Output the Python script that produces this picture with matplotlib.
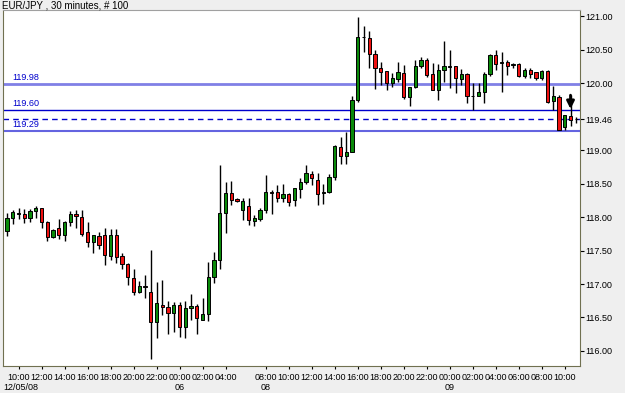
import matplotlib
matplotlib.use('Agg')
import matplotlib.pyplot as plt
import matplotlib.transforms as mtransforms
import numpy as np

plt.rcParams['font.family'] = ['Liberation Sans', 'DejaVu Sans']

# OHLC, 30 min candles, EUR/JPY
opens = [117.79, 117.98, 118.05, 118.05, 117.98, 118.09, 118.13, 117.93, 117.70, 117.83,
         117.73, 117.93, 118.05, 118.00, 117.77, 117.62, 117.72, 117.73, 117.42, 117.73,
         117.42, 117.30, 117.09, 116.88, 116.97, 116.88, 116.44, 116.69, 116.65, 116.57,
         116.68, 116.36, 116.64, 116.67, 116.47, 116.55, 117.11, 117.36, 118.06, 118.36,
         118.27, 118.10, 118.17, 117.94, 117.97, 118.10, 118.38, 118.37, 118.29, 118.35,
         118.25, 118.42, 118.52, 118.64, 118.55, 118.36, 118.38, 118.60, 119.05, 118.91,
         118.97, 119.74, 120.68, 120.67, 120.44, 120.23, 120.18, 120.00, 120.06, 120.15,
         119.79, 119.94, 120.25, 120.35, 120.13, 119.90, 120.20, 120.24, 120.25, 120.06,
         120.14, 119.80, 119.80, 119.87, 120.14, 120.42, 120.30, 120.32, 120.27, 120.29,
         120.10, 120.19, 120.16, 120.07, 120.18, 119.73, 119.79, 119.34, 119.51, 119.46]
highs = [118.06, 118.10, 118.13, 118.12, 118.12, 118.16, 118.14, 117.94, 117.82, 117.97,
         117.94, 118.09, 118.10, 118.10, 117.93, 117.73, 117.78, 117.84, 117.82, 117.82,
         117.46, 117.32, 117.22, 117.05, 117.14, 117.51, 117.03, 117.06, 116.74, 116.73,
         116.73, 116.74, 116.85, 116.70, 116.79, 117.33, 117.48, 118.77, 118.53, 118.54,
         118.28, 118.28, 118.28, 118.03, 118.13, 118.63, 118.41, 118.48, 118.49, 118.36,
         118.43, 118.58, 118.78, 118.68, 118.65, 118.50, 118.64, 119.07, 119.20, 119.27,
         119.81, 120.98, 120.85, 120.77, 120.49, 120.32, 120.18, 120.15, 120.32, 120.27,
         119.94, 120.35, 120.39, 120.38, 120.30, 120.28, 120.63, 120.49, 120.25, 120.21,
         120.15, 120.00, 120.00, 120.17, 120.44, 120.49, 120.47, 120.34, 120.30, 120.30,
         120.22, 120.23, 120.17, 120.19, 120.19, 119.95, 119.82, 119.52, 119.82, 119.50]
lows = [117.72, 117.89, 117.97, 117.91, 117.92, 117.98, 117.83, 117.64, 117.69, 117.67,
        117.64, 117.87, 117.84, 117.72, 117.55, 117.46, 117.52, 117.28, 117.36, 117.31,
        117.22, 116.99, 116.84, 116.87, 116.79, 115.88, 116.19, 116.54, 116.26, 116.29,
        116.21, 116.19, 116.47, 116.26, 116.46, 116.45, 117.01, 117.22, 117.76, 118.18,
        118.22, 117.95, 117.88, 117.86, 117.94, 118.06, 118.04, 118.23, 118.23, 118.16,
        118.16, 118.28, 118.50, 118.48, 118.18, 118.19, 118.36, 118.55, 118.79, 118.79,
        118.97, 119.71, 120.47, 120.22, 119.91, 119.97, 119.89, 119.94, 120.02, 119.76,
        119.66, 119.92, 120.22, 120.09, 119.89, 119.74, 120.02, 119.92, 119.85, 119.97,
        119.70, 119.60, 119.80, 119.70, 120.10, 120.20, 119.87, 120.12, 120.22, 120.09,
        120.07, 120.07, 120.04, 120.04, 119.70, 119.60, 119.30, 119.30, 119.36, 119.41]
closes = [117.99, 118.08, 118.06, 117.98, 118.09, 118.14, 117.93, 117.70, 117.81, 117.73,
          117.93, 118.04, 118.01, 117.75, 117.62, 117.73, 117.58, 117.43, 117.73, 117.40,
          117.30, 117.10, 116.88, 116.97, 116.95, 116.44, 116.71, 116.66, 116.57, 116.68,
          116.36, 116.64, 116.67, 116.49, 116.55, 117.11, 117.36, 118.06, 118.36, 118.26,
          118.24, 118.24, 117.96, 117.99, 118.10, 118.38, 118.36, 118.29, 118.35, 118.23,
          118.43, 118.53, 118.65, 118.58, 118.35, 118.37, 118.60, 119.06, 118.91, 118.97,
          119.74, 120.69, 120.69, 120.43, 120.22, 120.17, 120.00, 120.07, 120.17, 119.79,
          119.94, 120.25, 120.35, 120.12, 119.90, 120.19, 120.25, 120.25, 120.07, 120.14,
          119.80, 119.80, 119.87, 120.14, 120.42, 120.29, 120.31, 120.26, 120.28, 120.10,
          120.19, 120.14, 120.08, 120.18, 119.72, 119.81, 119.30, 119.52, 119.45, 119.46]

# x axis labels (candle index -> time)
time_idx = [2, 6, 10, 14, 18, 22, 26, 30, 34, 38,
            45, 49, 53, 57, 61, 65, 69, 73, 77, 81, 85, 89, 93, 97]
time_lbl = ['10:00', '12:00', '14:00', '16:00', '18:00', '20:00', '22:00', '00:00', '02:00', '04:00',
            '08:00', '10:00', '12:00', '14:00', '16:00', '18:00', '20:00', '22:00', '00:00', '02:00',
            '04:00', '06:00', '08:00', '10:00']
date_idx = [30, 45, 77]
date_lbl = ['06', '08', '09']

levels = [119.98, 119.60, 119.29]
last_price = 119.46
price_ticks = [116.0, 116.5, 117.0, 117.5, 118.0, 118.5, 119.0, 120.0, 120.5, 121.0]

fig = plt.figure(figsize=(6.25, 3.93), dpi=100)
fig.patch.set_facecolor('#efefef')
ax = fig.add_axes([3 / 625, 27 / 393, 577 / 625, 356 / 393])
ax.set_facecolor('white')

o = np.array(opens)
h = np.array(highs)
l = np.array(lows)
c = np.array(closes)
x = np.arange(len(o))
up = c >= o

ax.vlines(x, l, h, color='black', lw=1, zorder=2)
ax.bar(x, np.abs(c - o), bottom=np.minimum(o, c), width=0.6,
       color=np.where(up, '#0a8a0a', '#ee1111'), edgecolor='black', linewidth=0.7, zorder=3)

# horizontal levels
ax.axhline(levels[0], color='#8080e6', lw=2, zorder=1)
ax.axhline(levels[1], color='#0000cc', lw=1, zorder=1)
ax.axhline(levels[2], color='#6464e0', lw=1.5, zorder=1)
ax.axhline(last_price, color='#0000cc', lw=1, ls=(0, (4, 3)), zorder=1)
for lv in levels:
    ax.text(0.9, lv + 0.03, '%.2f' % lv, color='#0000cc', fontsize=6.5, ha='left', va='bottom')

# arrow on the last candles
ax.annotate('', xy=(98, 119.57), xytext=(98, 119.86),
            arrowprops=dict(arrowstyle='-|>', color='black', lw=2, mutation_scale=11), zorder=5)

ax.set_xlim(-0.7, 99.65)
ax.set_ylim(115.776, 121.09)

ax.yaxis.tick_right()
ax.set_yticks(price_ticks + [last_price])
ax.set_yticklabels(['%.2f' % p for p in price_ticks + [last_price]], fontsize=6.5)
ax.get_yticklabels()[-1].set_color('#0000cc')
ax.yaxis.get_major_ticks()[-1].tick2line.set_color('#0000cc')
ax.tick_params(axis='y', length=3, pad=1, colors='black')

ax.set_xticks(time_idx)
ax.set_xticklabels(time_lbl, fontsize=6.5)
ax.tick_params(axis='x', length=2, pad=3)

trans = mtransforms.blended_transform_factory(ax.transData, ax.transAxes)
for i, d in zip(date_idx, date_lbl):
    ax.text(i, -0.06, d, transform=trans, ha='center', va='center', fontsize=6.5)
ax.text(0.0, -0.06, '12/05/08', transform=ax.transAxes, ha='left', va='center', fontsize=6.5)

for s in ['left', 'bottom', 'right']:
    ax.spines[s].set_color('#707050')
ax.spines['top'].set_color('#a0a0a0')

fig.text(2 / 625, 1 - 5 / 393, 'EUR/JPY , 30 minutes, # 100', fontsize=7, ha='left', va='center')

fig.savefig('out.png', dpi=100, facecolor=fig.get_facecolor())
